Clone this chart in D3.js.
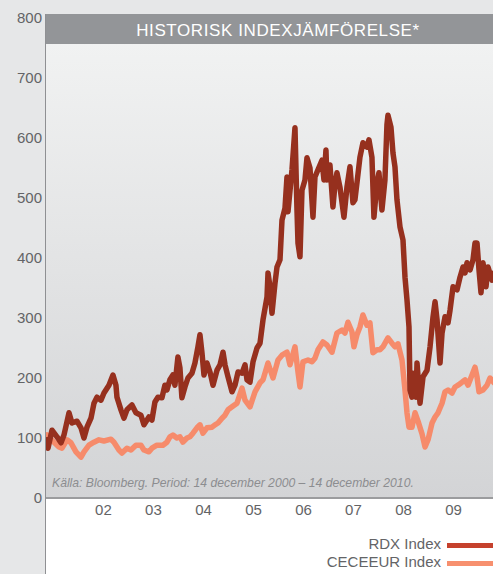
<!DOCTYPE html>
<html>
<head>
<meta charset="utf-8">
<script src="https://cdn.jsdelivr.net/npm/d3@7"></script>
<style>
  body { margin: 0; background: #e6e7e8; }
  svg { display: block; font-family: "Liberation Sans", Arial, sans-serif; }
</style>
</head>
<body>
<svg></svg>
<script>
let rdxDates = [2001.38, 2001.40, 2001.48, 2001.58, 2001.66, 2001.72, 2001.82, 2001.88, 2001.98, 2002.06,
  2002.12, 2002.18, 2002.26, 2002.32, 2002.38, 2002.46, 2002.52, 2002.62, 2002.70, 2002.76,
  2002.78, 2002.86, 2002.92, 2002.98, 2003.08, 2003.16, 2003.26, 2003.32, 2003.42, 2003.48,
  2003.54, 2003.60, 2003.68, 2003.74, 2003.78, 2003.84, 2003.90, 2003.94, 2004.00, 2004.04,
  2004.08, 2004.14, 2004.20, 2004.28, 2004.34, 2004.40, 2004.44, 2004.48, 2004.52, 2004.58,
  2004.64, 2004.70, 2004.78, 2004.84, 2004.90, 2004.94, 2005.00, 2005.08, 2005.14, 2005.20,
  2005.28, 2005.34, 2005.38, 2005.44, 2005.50, 2005.58, 2005.64, 2005.70, 2005.78, 2005.80,
  2005.84, 2005.88, 2005.94, 2005.98, 2006.04, 2006.08, 2006.14, 2006.18, 2006.20, 2006.28,
  2006.34, 2006.38, 2006.40, 2006.44, 2006.48, 2006.54, 2006.58, 2006.64, 2006.70, 2006.74,
  2006.80, 2006.88, 2006.92, 2006.96, 2006.98, 2007.04, 2007.10, 2007.14, 2007.18, 2007.24,
  2007.32, 2007.38, 2007.44, 2007.50, 2007.54, 2007.58, 2007.64, 2007.70, 2007.78, 2007.82,
  2007.88, 2007.92, 2007.98, 2008.02, 2008.08, 2008.14, 2008.18, 2008.20, 2008.26, 2008.30,
  2008.34, 2008.38, 2008.44, 2008.50, 2008.54, 2008.58, 2008.62, 2008.64, 2008.68, 2008.70,
  2008.76, 2008.78, 2008.84, 2008.90, 2008.98, 2009.04, 2009.10, 2009.14, 2009.18, 2009.24,
  2009.28, 2009.34, 2009.40, 2009.44, 2009.50, 2009.58, 2009.64, 2009.70, 2009.74, 2009.78,
  2009.84, 2009.90, 2009.94, 2009.98, 2010.02, 2010.06, 2010.10, 2010.16, 2010.20, 2010.28,
  2010.32]
let rdxValues = [97, 83, 113, 102, 92, 105, 142, 125, 128, 117,
  100, 118, 133, 158, 168, 163, 175, 188, 205, 188,
  168, 147, 133, 147, 155, 142, 138, 122, 135, 130,
  160, 168, 167, 188, 180, 197, 205, 188, 235, 217,
  167, 185, 200, 208, 225, 252, 272, 242, 205, 225,
  210, 188, 213, 222, 243, 222, 202, 177, 188, 210,
  208, 222, 197, 193, 227, 250, 258, 297, 335, 375,
  352, 308, 358, 385, 397, 463, 483, 535, 477, 547,
  617, 480, 425, 402, 513, 530, 567, 550, 468, 535,
  547, 563, 530, 580, 530, 555, 485, 522, 542, 518,
  468, 518, 552, 492, 497, 525, 568, 592, 585, 597,
  568, 468, 525, 542, 480, 530, 622, 638, 618, 575,
  552, 497, 452, 430, 368, 330, 285, 180, 168, 208,
  168, 225, 158, 202, 213, 252, 302, 327, 297, 225,
  275, 302, 292, 313, 352, 347, 368, 385, 375, 392,
  380, 397, 425, 425, 380, 342, 392, 352, 385, 363,
  375]

let ceceDates = [2001.38, 2001.52, 2001.62, 2001.68, 2001.78, 2001.86, 2001.96, 2002.06, 2002.12, 2002.22,
  2002.32, 2002.42, 2002.52, 2002.66, 2002.72, 2002.82, 2002.88, 2002.98, 2003.06, 2003.16,
  2003.26, 2003.32, 2003.42, 2003.48, 2003.58, 2003.70, 2003.78, 2003.84, 2003.90, 2003.98,
  2004.04, 2004.10, 2004.18, 2004.24, 2004.30, 2004.38, 2004.44, 2004.50, 2004.58, 2004.68,
  2004.74, 2004.80, 2004.88, 2004.94, 2005.00, 2005.08, 2005.18, 2005.28, 2005.34, 2005.44,
  2005.54, 2005.64, 2005.70, 2005.80, 2005.90, 2006.00, 2006.08, 2006.18, 2006.24, 2006.34,
  2006.40, 2006.44, 2006.50, 2006.60, 2006.68, 2006.74, 2006.80, 2006.90, 2006.98, 2007.08,
  2007.18, 2007.28, 2007.34, 2007.40, 2007.48, 2007.52, 2007.58, 2007.64, 2007.70, 2007.78,
  2007.84, 2007.90, 2007.98, 2008.04, 2008.10, 2008.20, 2008.28, 2008.34, 2008.40, 2008.48,
  2008.54, 2008.58, 2008.62, 2008.68, 2008.74, 2008.80, 2008.88, 2008.94, 2009.00, 2009.08,
  2009.14, 2009.20, 2009.28, 2009.34, 2009.40, 2009.48, 2009.54, 2009.60, 2009.68, 2009.74,
  2009.80, 2009.88, 2009.94, 2009.98, 2010.02, 2010.10, 2010.18, 2010.24, 2010.32]
let ceceValues = [105, 93, 85, 83, 97, 92, 77, 68, 77, 88,
  93, 97, 95, 98, 93, 80, 75, 83, 80, 88,
  88, 80, 77, 83, 88, 88, 93, 102, 105, 100,
  102, 93, 100, 102, 108, 117, 122, 108, 117, 118,
  122, 125, 133, 138, 147, 152, 158, 183, 163, 152,
  177, 192, 197, 225, 200, 230, 238, 243, 222, 252,
  210, 185, 227, 230, 227, 233, 247, 260, 255, 243,
  275, 280, 275, 293, 277, 252, 272, 285, 305, 288,
  292, 242, 247, 247, 252, 267, 258, 252, 257, 230,
  180, 142, 118, 118, 142, 128, 107, 85, 97, 125,
  135, 142, 158, 177, 180, 175, 185, 188, 193, 197,
  188, 205, 218, 202, 177, 180, 188, 200, 192]

let yTicks = [0, 100, 200, 300, 400, 500, 600, 700, 800]
let xTickYears = [2002.5, 2003.5, 2004.5, 2005.5, 2006.5, 2007.5, 2008.5, 2009.5]
let xTickLabels = ['02', '03', '04', '05', '06', '07', '08', '09']
let seriesNames = ['RDX Index', 'CECEEUR Index']

/*
*  SETUP
*/
let width = 493,
    height = 574,
    plotLeft = 46,
    plotRight = 493,
    plotTop = 44,
    plotBottom = 498

let svg = d3.select('svg').attr('width', width).attr('height', height)

function yearToDate(t){
  let yr = Math.floor(t)
  let a = new Date(yr, 0, 1), b = new Date(yr + 1, 0, 1)
  return new Date(+a + (t - yr) * (b - a))
}

let x = d3.scaleTime()
  .domain([yearToDate(2001.36), yearToDate(2010.30)])
  .range([plotLeft, plotRight])
let y = d3.scaleLinear().domain([0, 800]).range([plotBottom, 18])

let rdx = rdxDates.map((t, i) => ({date: yearToDate(t), value: rdxValues[i]}))
let cece = ceceDates.map((t, i) => ({date: yearToDate(t), value: ceceValues[i]}))

// background pieces
let defs = svg.append('defs')
let grad = defs.append('linearGradient').attr('id', 'bg').attr('x1', 0).attr('y1', 0).attr('x2', 0).attr('y2', 1)
grad.append('stop').attr('offset', '0%').attr('stop-color', '#f1f2f2')
grad.append('stop').attr('offset', '100%').attr('stop-color', '#d3d4d6')
defs.append('clipPath').attr('id', 'plot')
  .append('rect').attr('x', plotLeft).attr('y', plotTop)
  .attr('width', plotRight - plotLeft).attr('height', plotBottom - plotTop)

svg.append('rect').attr('x', 0).attr('y', 0).attr('width', width).attr('height', height).attr('fill', '#e6e7e8')
svg.append('rect').attr('x', plotLeft).attr('y', plotTop)
  .attr('width', plotRight - plotLeft).attr('height', plotBottom - plotTop)
  .attr('fill', 'url(#bg)')
svg.append('rect').attr('x', plotLeft).attr('y', plotBottom)
  .attr('width', plotRight - plotLeft).attr('height', height - plotBottom)
  .attr('fill', '#ffffff')

// title band
svg.append('rect').attr('x', plotLeft).attr('y', 14).attr('width', plotRight - plotLeft).attr('height', 30)
  .attr('fill', '#939598')
svg.append('text').text('HISTORISK INDEXJÄMFÖRELSE*')
  .attr('x', 278).attr('y', 36).attr('text-anchor', 'middle')
  .attr('fill', '#ffffff').attr('font-size', 17).attr('letter-spacing', 0.6)

// source note
svg.append('text').text('Källa: Bloomberg. Period: 14 december 2000 – 14 december 2010.')
  .attr('x', 52).attr('y', 487).attr('fill', '#8c8d90')
  .attr('font-size', 12.2).attr('font-style', 'italic')

// lines
let line = d3.line().x(d => x(d.date)).y(d => y(d.value))
let g = svg.append('g').attr('clip-path', 'url(#plot)')
g.append('path').datum(cece).attr('d', line)
  .attr('fill', 'none').attr('stroke', '#f68b6b').attr('stroke-width', 5.5)
  .attr('stroke-linejoin', 'round').attr('stroke-linecap', 'round')
g.append('path').datum(rdx).attr('d', line)
  .attr('fill', 'none').attr('stroke', '#96301e').attr('stroke-width', 5.5)
  .attr('stroke-linejoin', 'round').attr('stroke-linecap', 'round')

// axes
svg.append('line').attr('x1', plotLeft).attr('x2', plotRight).attr('y1', plotBottom).attr('y2', plotBottom)
  .attr('stroke', '#9b9c9e').attr('stroke-width', 2)
svg.append('line').attr('x1', 45.5).attr('x2', 45.5).attr('y1', 14).attr('y2', height)
  .attr('stroke', '#8f9093').attr('stroke-width', 1)

let yAxis = d3.axisLeft(y).tickValues(yTicks).tickSize(0).tickPadding(0)
let ya = svg.append('g').attr('transform', 'translate(42,0)').call(yAxis)
ya.select('.domain').remove()
ya.selectAll('text').attr('font-size', 15).attr('fill', '#636466')
  .attr('font-family', '"Liberation Sans", Arial, sans-serif')

let xAxis = d3.axisBottom(x).tickValues(xTickYears.map(yearToDate))
  .tickFormat((d, i) => xTickLabels[i]).tickSize(0).tickPadding(0)
let xa = svg.append('g').attr('transform', 'translate(0,' + (plotBottom + 6) + ')').call(xAxis)
xa.select('.domain').remove()
xa.selectAll('text').attr('font-size', 15).attr('fill', '#636466')
  .attr('font-family', '"Liberation Sans", Arial, sans-serif')

// legend
let legendColors = ['#c5412d', '#f7906f']
let lg = svg.append('g').selectAll('g').data(seriesNames).enter().append('g')
  .attr('transform', (d, i) => 'translate(0,' + (549 + i * 18) + ')')
lg.append('text').text(d => d).attr('x', 441).attr('y', 0)
  .attr('text-anchor', 'end').attr('font-size', 15).attr('fill', '#636466')
lg.append('rect').attr('x', 447).attr('y', -6).attr('width', 46).attr('height', 5)
  .attr('fill', (d, i) => legendColors[i])
</script>
</body>
</html>
